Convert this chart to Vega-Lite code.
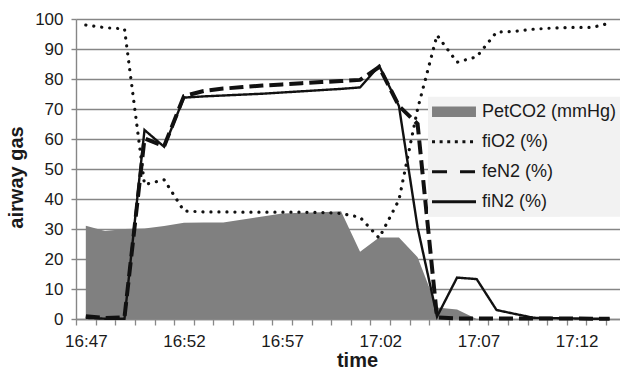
{
  "$schema": "https://vega.github.io/schema/vega-lite/v6.json",
  "width": 544,
  "height": 300,
  "autosize": "none",
  "padding": {"left": 76, "top": 19, "right": 0, "bottom": 51},
  "background": "white",
  "config": {"view": {"stroke": null}, "font": "Liberation Sans"},
  "data": {"values": [
    {"minute": 0, "PetCO2 (mmHg)": 31.1, "fiO2 (%)": 98.0, "feN2 (%)": 0.9, "fiN2 (%)": 0.4},
    {"minute": 0.98, "PetCO2 (mmHg)": 29.3, "fiO2 (%)": 97.1, "feN2 (%)": 0.3, "fiN2 (%)": 0.1},
    {"minute": 1.97, "PetCO2 (mmHg)": 30.0, "fiO2 (%)": 96.7, "feN2 (%)": 0.6, "fiN2 (%)": 0.1},
    {"minute": 2.99, "PetCO2 (mmHg)": 30.2, "fiO2 (%)": 44.8, "feN2 (%)": 60.2, "fiN2 (%)": 63.0},
    {"minute": 3.99, "PetCO2 (mmHg)": 31.0, "fiO2 (%)": 46.4, "feN2 (%)": 57.6, "fiN2 (%)": 57.4},
    {"minute": 5, "PetCO2 (mmHg)": 32.1, "fiO2 (%)": 36.0, "feN2 (%)": 74.3, "fiN2 (%)": 73.8},
    {"minute": 6, "PetCO2 (mmHg)": 32.2, "fiO2 (%)": 35.7, "feN2 (%)": 76.0, "fiN2 (%)": 74.2},
    {"minute": 7, "PetCO2 (mmHg)": 32.2, "fiO2 (%)": 35.7, "feN2 (%)": 76.8, "fiN2 (%)": 74.5},
    {"minute": 8, "PetCO2 (mmHg)": 33.2, "fiO2 (%)": 35.6, "feN2 (%)": 77.3, "fiN2 (%)": 74.8},
    {"minute": 9, "PetCO2 (mmHg)": 34.2, "fiO2 (%)": 35.6, "feN2 (%)": 77.8, "fiN2 (%)": 75.1},
    {"minute": 10, "PetCO2 (mmHg)": 35.2, "fiO2 (%)": 35.6, "feN2 (%)": 78.2, "fiN2 (%)": 75.5},
    {"minute": 11, "PetCO2 (mmHg)": 35.4, "fiO2 (%)": 35.6, "feN2 (%)": 78.6, "fiN2 (%)": 75.9},
    {"minute": 12, "PetCO2 (mmHg)": 35.6, "fiO2 (%)": 35.5, "feN2 (%)": 79.0, "fiN2 (%)": 76.3},
    {"minute": 13, "PetCO2 (mmHg)": 35.9, "fiO2 (%)": 35.2, "feN2 (%)": 79.3, "fiN2 (%)": 76.7},
    {"minute": 13.97, "PetCO2 (mmHg)": 22.4, "fiO2 (%)": 33.9, "feN2 (%)": 79.7, "fiN2 (%)": 77.2},
    {"minute": 14.94, "PetCO2 (mmHg)": 27.2, "fiO2 (%)": 27.0, "feN2 (%)": 84.0, "fiN2 (%)": 84.4},
    {"minute": 15.95, "PetCO2 (mmHg)": 27.2, "fiO2 (%)": 39.7, "feN2 (%)": 71.0, "fiN2 (%)": 71.0},
    {"minute": 16.9, "PetCO2 (mmHg)": 20.6, "fiO2 (%)": 70.0, "feN2 (%)": 65.0, "fiN2 (%)": 30.5},
    {"minute": 17.89, "PetCO2 (mmHg)": 3.8, "fiO2 (%)": 94.6, "feN2 (%)": 0.5, "fiN2 (%)": 0.8},
    {"minute": 18.91, "PetCO2 (mmHg)": 3.2, "fiO2 (%)": 85.6, "feN2 (%)": 0.2, "fiN2 (%)": 13.8},
    {"minute": 19.91, "PetCO2 (mmHg)": 0.0, "fiO2 (%)": 87.4, "feN2 (%)": 0.2, "fiN2 (%)": 13.3},
    {"minute": 20.92, "PetCO2 (mmHg)": 0.0, "fiO2 (%)": 95.6, "feN2 (%)": 0.2, "fiN2 (%)": 3.0},
    {"minute": 21.85, "PetCO2 (mmHg)": 0.0, "fiO2 (%)": 95.9, "feN2 (%)": 0.2, "fiN2 (%)": 1.7},
    {"minute": 22.81, "PetCO2 (mmHg)": 0.0, "fiO2 (%)": 96.6, "feN2 (%)": 0.2, "fiN2 (%)": 0.4},
    {"minute": 23.8, "PetCO2 (mmHg)": 0.0, "fiO2 (%)": 97.0, "feN2 (%)": 0.2, "fiN2 (%)": 0.3},
    {"minute": 24.8, "PetCO2 (mmHg)": 0.0, "fiO2 (%)": 97.2, "feN2 (%)": 0.2, "fiN2 (%)": 0.2},
    {"minute": 25.79, "PetCO2 (mmHg)": 0.0, "fiO2 (%)": 97.2, "feN2 (%)": 0.1, "fiN2 (%)": 0.1},
    {"minute": 26.68, "PetCO2 (mmHg)": 0.0, "fiO2 (%)": 98.6, "feN2 (%)": 0.1, "fiN2 (%)": 0.1}
  ]},
  "transform": [{"fold": ["PetCO2 (mmHg)", "fiO2 (%)", "feN2 (%)", "fiN2 (%)"], "as": ["series", "value"]}],
  "encoding": {
    "x": {
      "field": "minute", "type": "quantitative",
      "scale": {"domain": [-0.5, 27.21], "nice": false, "zero": false},
      "axis": {
        "values": [-0.5, 0, 0.5, 1.5, 2.5, 3.5, 4.5, 5, 5.5, 6.5, 7.5, 8.5, 9.5, 10, 10.5, 11.5, 12.5, 13.5, 14.5, 15, 15.5, 16.5, 17.5, 18.5, 19.5, 20, 20.5, 21.5, 22.5, 23.5, 24.5, 25, 25.5, 26.5],
        "grid": false,
        "domainColor": "#888888", "domainWidth": 1.3,
        "tickColor": "#888888", "tickWidth": 1.3, "tickSize": 6,
        "tickOpacity": {"condition": {"test": "datum.value % 1 !== 0", "value": 1}, "value": 0},
        "labelExpr": "datum.value % 5 === 0 ? floor((1007 + datum.value) / 60) + ':' + ((1007 + datum.value) % 60 < 10 ? '0' : '') + ((1007 + datum.value) % 60) : ''",
        "labelFontSize": 17, "labelColor": "#1a1a1a", "labelPadding": 8,
        "labelFlush": false, "labelOverlap": false,
        "title": "time", "titleFontSize": 20, "titleFontWeight": "bold", "titleColor": "#1a1a1a",
        "titleX": 281, "titleY": 47, "titleBaseline": "alphabetic", "titleAlign": "center"
      }
    },
    "y": {
      "field": "value", "type": "quantitative",
      "scale": {"domain": [0, 100], "nice": false},
      "axis": {
        "values": [0, 10, 20, 30, 40, 50, 60, 70, 80, 90, 100],
        "grid": true, "gridColor": "#868686", "gridWidth": 1.4,
        "domainColor": "#868686", "domainWidth": 1.4,
        "tickColor": "#868686", "tickWidth": 1.4, "tickSize": 5,
        "labelFontSize": 17, "labelColor": "#1a1a1a", "labelPadding": 8,
        "title": "airway gas", "titleFontSize": 20, "titleFontWeight": "bold", "titleColor": "#1a1a1a",
        "titleX": -54, "titleY": 158, "titleAngle": -90, "titleBaseline": "alphabetic", "titleAlign": "center"
      }
    }
  },
  "layer": [
    {
      "transform": [{"filter": "datum.series === 'PetCO2 (mmHg)'"}],
      "mark": {"type": "area", "interpolate": "linear"},
      "encoding": {
        "fill": {
          "field": "series", "type": "nominal",
          "scale": {"domain": ["PetCO2 (mmHg)"], "range": ["#808080"]},
          "legend": {
            "title": ["\u00a0\u00a0\u00a0\u00a0\u00a0\u00a0\u00a0\u00a0\u00a0\u00a0\u00a0\u00a0\u00a0\u00a0\u00a0\u00a0\u00a0\u00a0\u00a0\u00a0\u00a0\u00a0\u00a0\u00a0\u00a0\u00a0\u00a0\u00a0\u00a0\u00a0\u00a0\u00a0\u00a0\u00a0\u00a0\u00a0\u00a0\u00a0\u00a0\u00a0", "\u00a0", "\u00a0", "\u00a0"],
            "titleOrient": "bottom", "titleFontSize": 18, "titleLineHeight": 22, "titlePadding": 6,
            "orient": "none", "legendX": 352, "legendY": 77.7, "direction": "vertical",
            "fillColor": "#f2f2f2", "padding": 6,
            "symbolType": "M-3.14,-0.76H3.14V0.76H-3.14Z", "symbolSize": 196, "symbolOffset": 11, "symbolStrokeWidth": 0,
            "labelFont": "Liberation Sans", "labelFontSize": 18, "labelColor": "#1a1a1a", "labelOffset": 19, "labelLimit": 400
          }
        }
      }
    },
    {
      "transform": [{"filter": "datum.series === 'fiO2 (%)'"}],
      "mark": {"type": "line", "color": "#111111", "strokeWidth": 3.2, "strokeCap": "round", "strokeJoin": "round", "strokeDash": [0.1, 7.9]}
    },
    {
      "transform": [{"filter": "datum.series === 'feN2 (%)'"}],
      "mark": {"type": "line", "color": "#111111", "strokeWidth": 4, "strokeCap": "butt", "strokeJoin": "miter", "strokeDash": [14, 6]}
    },
    {
      "transform": [{"filter": "datum.series === 'fiN2 (%)'"}],
      "mark": {"type": "line", "color": "#111111", "strokeWidth": 2.4, "strokeJoin": "miter"},
      "encoding": {
        "strokeDash": {
          "field": "series", "type": "nominal",
          "scale": {"domain": ["fiO2 (%)", "feN2 (%)", "fiN2 (%)"], "range": [[3, 4.6], [15, 13], [1, 0]]},
          "legend": {
            "title": null, "orient": "none", "legendX": 352, "legendY": 107.7, "direction": "vertical",
            "fillColor": "#f2f2f2", "padding": 6,
            "symbolType": "M-3.14,0H3.14", "symbolSize": 196, "symbolStrokeWidth": 3, "symbolOffset": 11,
            "symbolStrokeColor": "#111111",
            "labelFont": "Liberation Sans", "labelFontSize": 18, "labelColor": "#1a1a1a", "labelOffset": 19, "labelLimit": 400,
            "rowPadding": 12
          }
        }
      }
    }
  ]
}
